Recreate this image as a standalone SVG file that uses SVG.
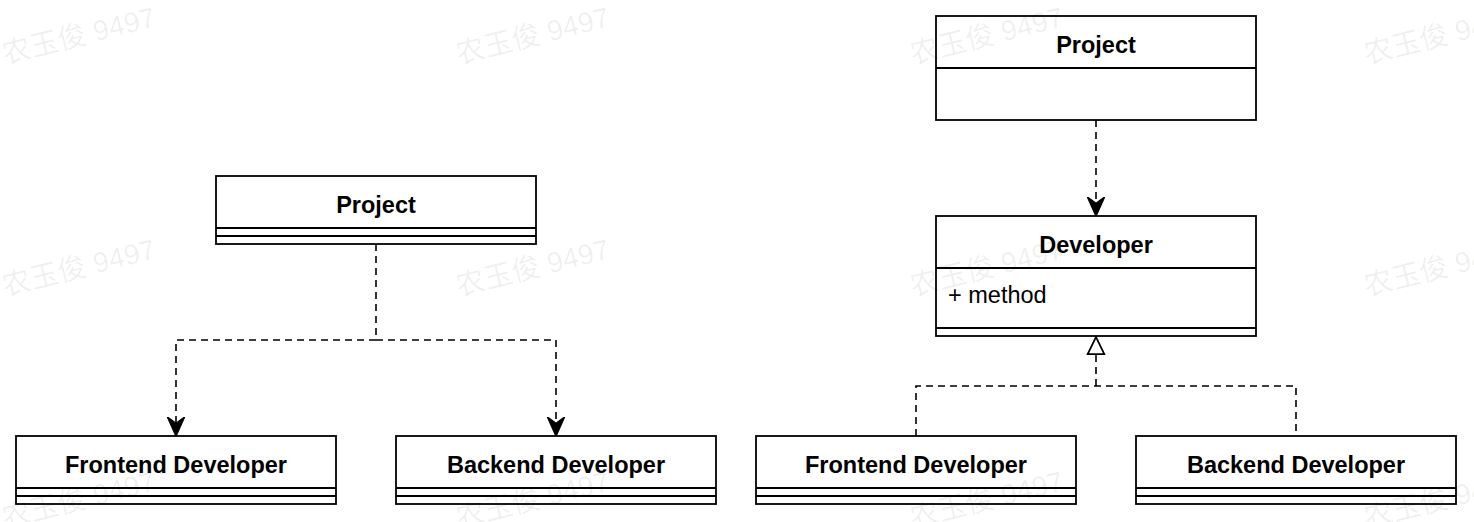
<svg xmlns="http://www.w3.org/2000/svg" width="1474" height="522" viewBox="0 0 1474 522">
<style>
.box{fill:#fff;stroke:#000;stroke-width:1.8}
.sep{stroke:#000;stroke-width:1.8;fill:none}
.title{font-family:"Liberation Sans",Arial,sans-serif;font-weight:bold;font-size:23.5px;text-anchor:middle;fill:#000}
.attr{font-family:"Liberation Sans",Arial,sans-serif;font-size:23.5px;fill:#000}
.conn{fill:none;stroke:#000;stroke-width:1.6;stroke-dasharray:7 5}
.wm{font-family:"Liberation Sans","Noto Sans CJK SC",sans-serif;font-size:28.5px;fill:#000;fill-opacity:0.065}
</style>
<defs>
<marker id="arrow" markerUnits="userSpaceOnUse" markerWidth="20" markerHeight="18" viewBox="0 0 18 16" refX="17.5" refY="8" orient="auto">
<path d="M0,0 L18,8 L0,16 L6,8 Z" fill="#000" stroke="#000" stroke-width="1"/>
</marker>
<marker id="tri" markerUnits="userSpaceOnUse" markerWidth="20" markerHeight="20" viewBox="-1 -1 18 18" refX="15.5" refY="8" orient="auto">
<path d="M0,0.5 L15.5,8 L0,15.5 Z" fill="#fff" stroke="#000" stroke-width="1.6"/>
</marker>
</defs>

<g id="connectors">
<path class="conn" d="M376,244 V340 H176 V436" marker-end="url(#arrow)"/>
<path class="conn" d="M376,340 H556 V436" marker-end="url(#arrow)"/>
<path class="conn" d="M1096,120 V216" marker-end="url(#arrow)"/>
<path class="conn" d="M916,436 V386 H1296 V436"/>
<path class="conn" d="M1096,386 V337" marker-end="url(#tri)"/>
</g>

<g id="left-project">
<rect class="box" x="216" y="176" width="320" height="68"/>
<path class="sep" d="M216,228 H536 M216,236 H536"/>
<text class="title" x="376" y="212.5">Project</text>
</g>

<g id="left-frontend">
<rect class="box" x="16" y="436" width="320" height="68"/>
<path class="sep" d="M16,488 H336 M16,496 H336"/>
<text class="title" x="176" y="472.5">Frontend Developer</text>
</g>

<g id="left-backend">
<rect class="box" x="396" y="436" width="320" height="68"/>
<path class="sep" d="M396,488 H716 M396,496 H716"/>
<text class="title" x="556" y="472.5">Backend Developer</text>
</g>

<g id="right-project">
<rect class="box" x="936" y="16" width="320" height="104"/>
<path class="sep" d="M936,68 H1256"/>
<text class="title" x="1096" y="52.5">Project</text>
</g>

<g id="developer">
<rect class="box" x="936" y="216" width="320" height="120"/>
<path class="sep" d="M936,268 H1256 M936,328 H1256"/>
<text class="title" x="1096" y="252.5">Developer</text>
<text class="attr" x="948" y="303">+ method</text>
</g>

<g id="right-frontend">
<rect class="box" x="756" y="436" width="320" height="68"/>
<path class="sep" d="M756,488 H1076 M756,496 H1076"/>
<text class="title" x="916" y="472.5">Frontend Developer</text>
</g>

<g id="right-backend">
<rect class="box" x="1136" y="436" width="320" height="68"/>
<path class="sep" d="M1136,488 H1456 M1136,496 H1456"/>
<text class="title" x="1296" y="472.5">Backend Developer</text>
</g>

<g id="watermarks">
<text class="wm" transform="translate(5,64) rotate(-14)">农玉俊 9497</text>
<text class="wm" transform="translate(459,64) rotate(-14)">农玉俊 9497</text>
<text class="wm" transform="translate(913,64) rotate(-14)">农玉俊 9497</text>
<text class="wm" transform="translate(1367,64) rotate(-14)">农玉俊 9497</text>
<text class="wm" transform="translate(5,296) rotate(-14)">农玉俊 9497</text>
<text class="wm" transform="translate(459,296) rotate(-14)">农玉俊 9497</text>
<text class="wm" transform="translate(913,296) rotate(-14)">农玉俊 9497</text>
<text class="wm" transform="translate(1367,296) rotate(-14)">农玉俊 9497</text>
<text class="wm" transform="translate(5,528) rotate(-14)">农玉俊 9497</text>
<text class="wm" transform="translate(459,528) rotate(-14)">农玉俊 9497</text>
<text class="wm" transform="translate(913,528) rotate(-14)">农玉俊 9497</text>
<text class="wm" transform="translate(1367,528) rotate(-14)">农玉俊 9497</text>
</g>
</svg>
